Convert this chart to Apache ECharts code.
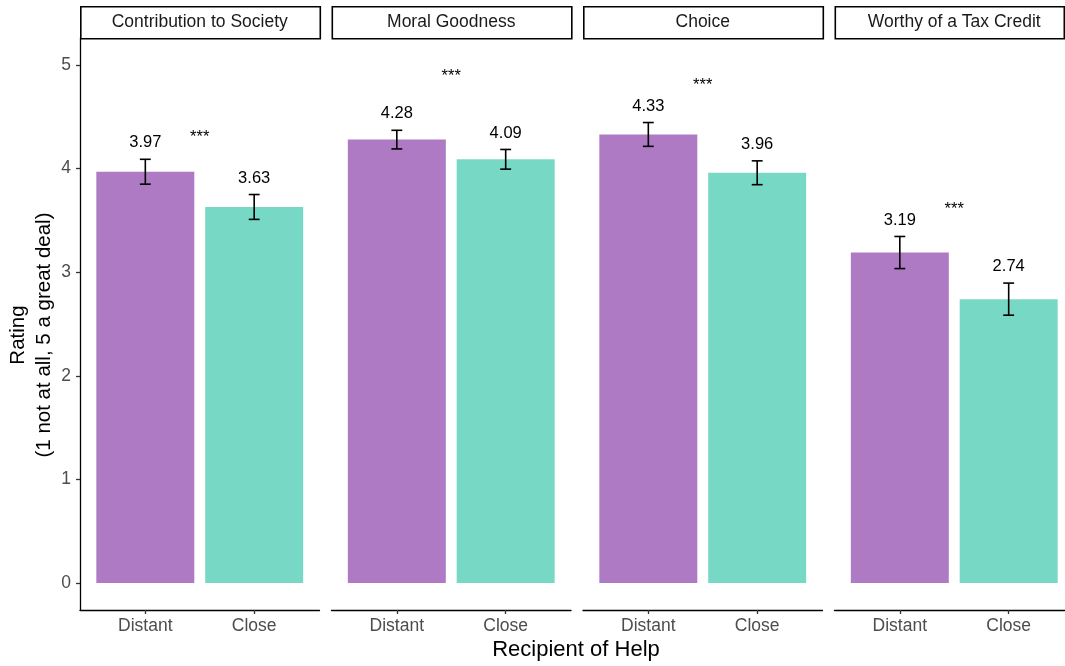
<!DOCTYPE html>
<html><head><meta charset="utf-8">
<script src="https://cdn.jsdelivr.net/npm/echarts@6/dist/echarts.min.js"></script>
<style>html,body{margin:0;padding:0;background:#fff;overflow:hidden;width:1065px;height:666px}#c{width:1085px;height:666px}</style>
</head><body><div id="c"></div>
<script>
const panels = ['Contribution to Society','Moral Goodness','Choice','Worthy of a Tax Credit'];
const groups = ['Distant','Close'];
const distantMean = [3.97,4.28,4.33,3.19];
const closeMean = [3.63,4.09,3.96,2.74];
const distantSE = [0.12,0.09,0.115,0.155];
const closeSE = [0.12,0.095,0.115,0.155];
const sigLabels = ['***','***','***','***'];
const sigY = [4.34,4.93,4.84,3.64];
const yTicks = [0,1,2,3,4,5];
const colors = ['#AE7AC4','#78D8C6'];

const FONT = '"Liberation Sans", Arial, sans-serif';
const panelLeft = [80,331.5,583,834.5];
const panelW = 239.5;
const stripW = [239.5,239.5,239.5,229];
const gTop = 38, gBottom = 610;

function renderBar(params, api){
  const x = api.value(0), m = api.value(1), se = api.value(2), ci = api.value(3);
  const p0 = api.coord([x - 0.45, 0]);
  const p1 = api.coord([x + 0.45, m]);
  const up = api.coord([x, m + se]), lo = api.coord([x, m - se]);
  const ch = api.size([0.05, 0])[0];
  const ls = {stroke:'#000', lineWidth:1.6};
  return {type:'group', children:[
    {type:'rect', shape:{x:p0[0], y:p1[1], width:p1[0]-p0[0], height:p0[1]-p1[1]}, style:{fill:colors[ci]}},
    {type:'line', shape:{x1:up[0],y1:up[1],x2:lo[0],y2:lo[1]}, style:ls},
    {type:'line', shape:{x1:up[0]-ch,y1:up[1],x2:up[0]+ch,y2:up[1]}, style:ls},
    {type:'line', shape:{x1:lo[0]-ch,y1:lo[1],x2:lo[0]+ch,y2:lo[1]}, style:ls},
    {type:'text', x:up[0], y:up[1]-8, style:{text:m.toFixed(2), align:'center', verticalAlign:'bottom', textAlign:'center', textVerticalAlign:'bottom', fill:'#000', font:'16.5px ' + FONT}}
  ]};
}
function renderSig(params, api){
  const p = api.coord([api.value(0), api.value(1)]);
  return {type:'text', x:p[0], y:p[1]+4, style:{text:sigLabels[params.seriesIndex/2|0], align:'center', verticalAlign:'middle', textAlign:'center', textVerticalAlign:'middle', fill:'#000', font:'16.5px ' + FONT}};
}

const grid = [], xAxis = [], yAxis = [], series = [], graphic = [];
panels.forEach((name, i) => {
  grid.push({left:panelLeft[i], top:gTop, width:panelW, height:gBottom-gTop});
  xAxis.push({type:'value', gridIndex:i, min:0.4, max:2.6,
    axisLine:{show:true, onZero:false, lineStyle:{color:'#000', width:1.3}},
    axisTick:{show:true, customValues:[1,2], length:4, lineStyle:{color:'#333', width:1.3}},
    axisLabel:{show:true, customValues:[1,2], formatter:v => groups[Math.round(v)-1], color:'#4D4D4D', fontSize:17.5, fontFamily:FONT, margin:7},
    splitLine:{show:false}});
  yAxis.push({type:'value', gridIndex:i, min:-0.261, max:5.261,
    axisLine:{show:i===0, onZero:false, lineStyle:{color:'#000', width:1.3}},
    axisTick:{show:i===0, customValues:yTicks, length:4, lineStyle:{color:'#333', width:1.3}},
    axisLabel:{show:i===0, customValues:yTicks, color:'#4D4D4D', fontSize:17.5, fontFamily:FONT, margin:9},
    splitLine:{show:false}});
  series.push({type:'custom', xAxisIndex:i, yAxisIndex:i, renderItem:renderBar, silent:true,
    data:[[1, distantMean[i], distantSE[i], 0],[2, closeMean[i], closeSE[i], 1]]});
  series.push({type:'custom', xAxisIndex:i, yAxisIndex:i, renderItem:renderSig, silent:true,
    data:[[1.5, sigY[i]]]});
  graphic.push({type:'rect', left:panelLeft[i], top:6, shape:{width:stripW[i], height:32}, style:{fill:'#fff', stroke:'#000', lineWidth:1.6}, z:10});
  graphic.push({type:'text', x:panelLeft[i]+panelW/2, y:22.5, style:{text:name, align:'center', verticalAlign:'middle', textAlign:'center', textVerticalAlign:'middle', fill:'#1A1A1A', font:'17.5px ' + FONT}, z:11});
});
graphic.push({type:'text', x:576, y:650, style:{text:'Recipient of Help', align:'center', verticalAlign:'middle', textAlign:'center', textVerticalAlign:'middle', fill:'#000', font:'22px ' + FONT}});
graphic.push({type:'text', x:31, y:335, rotation:Math.PI/2, style:{text:'Rating\n(1 not at all, 5 a great deal)', align:'center', verticalAlign:'middle', textAlign:'center', textVerticalAlign:'middle', fill:'#000', font:'20.5px ' + FONT, lineHeight:26}});

const chart = echarts.init(document.getElementById('c'), null, {renderer:'canvas'});
chart.setOption({animation:false, backgroundColor:'#fff', grid, xAxis, yAxis, series, graphic});
</script></body></html>
